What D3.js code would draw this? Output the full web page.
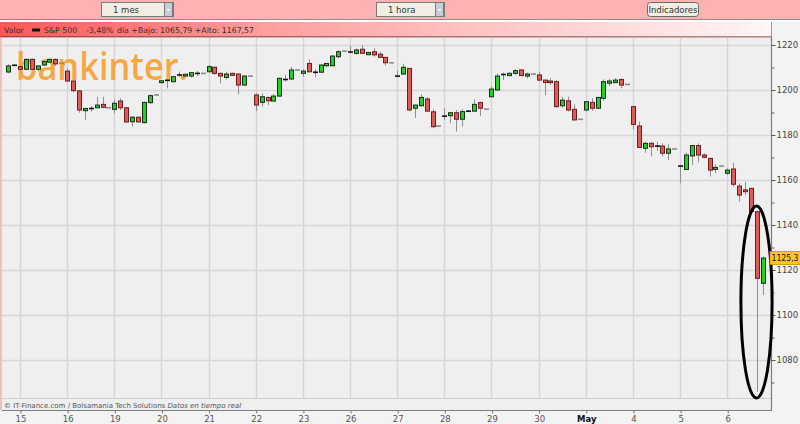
<!DOCTYPE html>
<html><head><meta charset="utf-8">
<script src="https://cdn.jsdelivr.net/npm/d3@7"></script>
<style>body{margin:0;background:#f3f3f3;overflow:hidden} svg{display:block}</style>
</head><body><svg id="c" width="800" height="424"></svg>
<script>
// ---- DATA (S&P 500, hourly candles, 14 Apr - 6 May) ----
const dayLabels = ["14","15","16","19","20","21","22","23","26","27","28","29","30","May","4","5","6"];
const candlesPerDay = [2,8,8,8,8,8,8,8,8,8,8,8,8,8,8,8,7];
const tickLabels = ["15","16","19","20","21","22","23","26","27","28","29","30","May","4","5","6"];
const yTicks = [1080,1100,1120,1140,1160,1180,1200,1220];
const yMinorTicks = [1070,1090,1110,1130,1150,1170,1190,1210];
const open = [
 1208.0,1211.0,
 1210.4,1209.2,1213.6,1209.2,1211.1,1212.4,1213.6,1211.9,
 1208.4,1204.0,1199.6,1190.8,1191.8,1192.1,1193.6,1192.1,
 1191.4,1195.1,1192.1,1185.9,1187.9,1185.5,1194.4,1197.8,
 1203.3,1204.5,1203.7,1206.7,1206.2,1206.2,1207.4,1207.4,
 1208.1,1210.1,1207.4,1205.6,1207.4,1207.1,1202.2,1206.2,
 1197.8,1194.5,1196.7,1195.1,1197.3,1204.7,1204.9,1208.9,
 1207.4,1211.8,1207.9,1207.9,1210.8,1210.8,1214.8,1217.3,
 1216.9,1216.3,1218.1,1215.7,1217.0,1215.9,1214.5,1212.1,
 1206.2,1207.1,1209.6,1191.9,1193.0,1196.0,1190.3,1184.0,
 1188.4,1188.6,1189.9,1187.0,1190.6,1190.6,1194.4,1191.5,
 1197.0,1200.0,1206.9,1206.4,1207.4,1208.9,1206.2,1207.1,
 1206.7,1204.4,1204.0,1203.7,1193.0,1195.2,1191.4,1187.0,
 1191.1,1194.5,1191.9,1196.3,1203.0,1203.3,1204.7,1202.5,
 1192.6,1184.0,1174.1,1176.3,1175.1,1175.1,1171.9,1173.8,
 1166.2,1164.7,1170.7,1175.3,1171.1,1169.6,1164.7,1166.2,
 1163.0,1164.9,1157.3,1155.6,1156.3,1145.9,1114.1];
const high = [
 1211.4,1211.3,
 1210.7,1214.1,1214.0,1211.0,1213.3,1214.0,1214.0,1212.0,
 1209.6,1204.3,1199.9,1192.0,1192.9,1197.0,1197.0,1192.2,
 1195.6,1196.3,1192.3,1188.4,1188.1,1194.8,1198.1,1197.9,
 1204.5,1204.9,1206.2,1208.2,1207.3,1207.9,1208.4,1207.5,
 1211.1,1210.4,1207.7,1208.1,1207.7,1207.4,1206.5,1206.3,
 1198.5,1198.5,1197.0,1198.2,1205.5,1206.7,1210.4,1209.0,
 1209.2,1213.6,1209.2,1211.4,1212.0,1215.4,1217.8,1217.4,
 1219.5,1218.5,1220.0,1216.9,1218.5,1217.0,1214.7,1212.2,
 1208.6,1211.6,1209.8,1193.5,1198.1,1196.8,1191.5,1184.1,
 1191.8,1190.3,1191.1,1191.5,1191.0,1195.8,1194.8,1191.6,
 1201.6,1207.4,1207.7,1207.8,1209.2,1209.3,1207.7,1207.2,
 1208.0,1204.6,1205.2,1204.4,1197.0,1197.0,1193.6,1187.1,
 1195.0,1196.3,1196.9,1204.7,1204.9,1205.2,1205.0,1202.6,
 1192.8,1186.0,1177.0,1177.0,1177.0,1176.3,1175.9,1173.9,
 1166.4,1172.1,1175.6,1176.3,1171.8,1169.8,1167.0,1166.3,
 1165.2,1167.6,1158.5,1159.2,1156.5,1146.2,1126.0];
const low = [
 1207.4,1210.8,
 1208.9,1208.9,1209.0,1208.3,1210.7,1212.0,1210.7,1211.8,
 1203.7,1199.0,1189.9,1186.7,1190.4,1191.9,1191.9,1192.0,
 1189.6,1191.1,1185.5,1183.7,1185.6,1185.2,1193.8,1197.7,
 1202.8,1200.7,1203.4,1205.9,1205.9,1205.5,1206.2,1207.3,
 1207.9,1206.7,1202.9,1204.7,1206.2,1198.1,1202.0,1206.1,
 1190.6,1192.6,1193.3,1194.8,1197.0,1203.7,1204.4,1208.8,
 1205.9,1207.8,1205.6,1207.7,1210.1,1210.5,1214.1,1217.2,
 1216.3,1215.6,1216.0,1215.4,1214.8,1214.1,1210.9,1212.0,
 1205.6,1206.8,1190.6,1187.6,1192.8,1190.3,1183.0,1183.9,
 1186.7,1185.2,1181.5,1183.7,1190.2,1190.3,1188.4,1191.4,
 1196.8,1199.8,1204.4,1206.2,1206.7,1206.2,1205.2,1207.0,
 1204.1,1197.7,1202.2,1192.1,1192.1,1190.4,1186.5,1186.9,
 1190.4,1190.8,1191.7,1195.2,1201.8,1203.0,1200.7,1202.4,
 1182.5,1174.3,1172.1,1170.5,1172.9,1170.5,1168.9,1173.7,
 1158.6,1164.5,1166.6,1167.9,1169.6,1161.5,1162.9,1166.1,
 1162.2,1157.0,1150.4,1153.3,1145.0,1065.8,1108.9];
const close = [
 1210.7,1211.0,
 1209.2,1213.6,1209.2,1210.7,1212.6,1213.6,1211.6,1211.9,
 1204.0,1199.7,1191.1,1191.8,1191.8,1193.3,1192.3,1192.1,
 1194.1,1192.1,1185.8,1187.9,1185.8,1194.5,1197.5,1197.8,
 1204.1,1204.3,1205.9,1206.7,1207.0,1207.7,1207.4,1207.4,
 1210.4,1207.4,1206.2,1207.1,1206.5,1202.2,1206.2,1206.2,
 1193.3,1197.0,1195.2,1197.3,1205.2,1204.7,1208.9,1208.9,
 1208.4,1208.1,1207.9,1211.1,1211.8,1215.1,1217.0,1217.3,
 1216.9,1217.8,1216.3,1216.7,1215.6,1214.5,1212.1,1212.1,
 1206.2,1210.1,1191.1,1193.3,1196.7,1190.6,1183.7,1184.0,
 1188.4,1189.9,1187.0,1190.4,1190.6,1193.6,1191.9,1191.5,
 1200.4,1206.2,1206.9,1207.4,1208.6,1206.4,1207.1,1207.1,
 1204.4,1203.3,1203.3,1192.6,1195.5,1191.1,1186.7,1187.0,
 1194.8,1191.9,1196.7,1203.7,1204.0,1204.4,1202.2,1202.5,
 1184.7,1174.5,1176.3,1174.8,1175.1,1171.9,1173.8,1173.8,
 1166.2,1171.1,1175.3,1171.1,1170.1,1164.4,1165.6,1166.2,
 1164.4,1158.1,1153.3,1154.8,1145.9,1116.3,1125.3];
const lastValue = "1125,3";
const headerText = ["Valor", "S&P 500", "-3,48%", "día +Bajo: 1065,79 +Alto: 1167,57"];

// ---- build candles: slot index relative to first full day (15 Apr) ----
const candles = [];
dayLabels.forEach((d, di) => {
  for (let h = 0; h < candlesPerDay[di]; h++) {
    const i = candles.length;
    candles.push({day: d, slot: i - candlesPerDay[0], o: open[i], h: high[i], l: low[i], c: close[i]});
  }
});

const svg = d3.select("#c");
const W = 800, H = 424;
const plot = {x0: 2, x1: 771, y0: 37, y1: 410, inner: 398};

const x = d3.scaleLinear().domain([-2, 126]).range([8.2, 762.6]);
const y = d3.scaleLinear().domain([1060, 1220]).range([405, 45]);

// page background
svg.append("rect").attr("width", W).attr("height", H).attr("fill", "#f3f3f3");

// ---- top toolbar ----
svg.append("rect").attr("x",0).attr("y",0).attr("width",W).attr("height",19).attr("fill","#ffb2b2");
svg.append("line").attr("x1",0).attr("x2",W).attr("y1",19.5).attr("y2",19.5).attr("stroke","#8c8c8c");
svg.append("rect").attr("x",0).attr("y",20).attr("width",W).attr("height",2).attr("fill","#ffffff");
function dropdown(x0, w, label){
  const g = svg.append("g");
  g.append("rect").attr("x",x0+0.5).attr("y",2.5).attr("width",w).attr("height",14).attr("fill","#f0eee2").attr("stroke","#7a7a7a");
  g.append("rect").attr("x",x0+w-8.5).attr("y",2.5).attr("width",8).attr("height",14).attr("fill","#c8ccd4").attr("stroke","#7a7a7a");
  g.append("rect").attr("x",x0+w-6).attr("y",9).attr("width",3).attr("height",1.5).attr("fill","#ffffff");
  g.append("text").attr("x",x0+12).attr("y",13).attr("font-family","DejaVu Sans").attr("font-size",8.5).attr("fill","#333").text(label);
}
dropdown(101, 72, "1 mes");
dropdown(376, 68, "1 hora");
svg.append("rect").attr("x",647.5).attr("y",2.5).attr("width",51).attr("height",14).attr("rx",3).attr("fill","#f0eee2").attr("stroke","#6a6a6a");
svg.append("text").attr("x",673).attr("y",13).attr("text-anchor","middle").attr("font-family","DejaVu Sans").attr("font-size",8.5).attr("fill","#333").text("Indicadores");

// ---- header bar ----
const defs = svg.append("defs");
const grad = defs.append("linearGradient").attr("id","hg").attr("x1","0").attr("x2","1").attr("y1","0").attr("y2","0");
grad.append("stop").attr("offset","0%").attr("stop-color","#ff5656");
grad.append("stop").attr("offset","35%").attr("stop-color","#ff9f9f");
grad.append("stop").attr("offset","100%").attr("stop-color","#fff6f6");
svg.append("rect").attr("x",0).attr("y",22).attr("width",771).attr("height",15).attr("fill","url(#hg)");
svg.append("line").attr("x1",771.5).attr("x2",771.5).attr("y1",22).attr("y2",37).attr("stroke","#9a9a9a");
svg.append("line").attr("x1",0).attr("x2",771).attr("y1",37).attr("y2",37).attr("stroke","#6e2020").attr("stroke-width",1.2);
const ht = svg.append("g").attr("font-family","DejaVu Sans").attr("font-size",7.8).attr("fill","#3a2a2a");
ht.append("text").attr("x",4).attr("y",33).text(headerText[0]);
ht.append("rect").attr("x",32).attr("y",28.5).attr("width",8).attr("height",3).attr("fill","#111");
ht.append("text").attr("x",44).attr("y",33).text(headerText[1]);
ht.append("text").attr("x",86).attr("y",33).text(headerText[2]);
ht.append("text").attr("x",117).attr("y",33).text(headerText[3]);

// ---- plot area ----
svg.append("rect").attr("x",plot.x0).attr("y",37.6).attr("width",plot.x1-plot.x0).attr("height",plot.y1-37.6).attr("fill","#efefef");
svg.append("line").attr("x1",1).attr("x2",1).attr("y1",37).attr("y2",plot.y1).attr("stroke","#e2b4b4").attr("stroke-width",1.5);

const grid = svg.append("g");
const dayTicks = tickLabels.map((t,k)=>k*8);
grid.selectAll(".vg").data(dayTicks).enter().append("line")
  .attr("x1",d=>Math.round(x(d))+0.5).attr("x2",d=>Math.round(x(d))+0.5)
  .attr("y1",38).attr("y2",plot.inner).attr("stroke","#d6d6d6").attr("stroke-width",1.5);
grid.selectAll(".hg").data(yTicks).enter().append("line")
  .attr("x1",plot.x0).attr("x2",plot.x1).attr("y1",d=>Math.round(y(d))+0.5).attr("y2",d=>Math.round(y(d))+0.5)
  .attr("stroke","#d6d6d6").attr("stroke-width",1.5);
grid.append("line").attr("x1",plot.x0).attr("x2",plot.x1).attr("y1",plot.inner+0.5).attr("y2",plot.inner+0.5).attr("stroke","#d0d0d0").attr("stroke-width",1.2);

// logo watermark
svg.append("text").attr("x",16).attr("y",80).attr("font-family","Open Sans").attr("font-weight",600).attr("font-size",37)
  .attr("fill","#f7a035").attr("fill-opacity",0.92).attr("textLength",172).attr("lengthAdjust","spacingAndGlyphs")
  .text("bankinter.");

// ---- candles ----
const cg = svg.append("g");
candles.forEach(d => {
  const cx = Math.round(x(d.slot)) + 0.5;
  const flat = Math.abs(d.o - d.c) < 0.35;
  cg.append("line").attr("x1",cx).attr("x2",cx).attr("y1",y(d.h)).attr("y2",y(d.l))
    .attr("stroke", "#8f8f8f").attr("stroke-width",1);
  if (flat) {
    const tiny = (d.h - d.l) < 0.5;
    cg.append("rect").attr("x",cx-2.5).attr("y",y(d.c)-0.75).attr("width",5).attr("height",1.6)
      .attr("fill", tiny ? "#8c8c8c" : "#111");
  } else {
    const up = d.c > d.o;
    const top = y(Math.max(d.o,d.c)), bot = y(Math.min(d.o,d.c));
    cg.append("rect").attr("x",cx-2).attr("y",top).attr("width",4).attr("height",Math.max(1,bot-top))
      .attr("fill", up ? "#22d222" : "#dc5c5c").attr("stroke", up ? "#1c2a1c" : "#6e1c1c").attr("stroke-width",1);
  }
});

// ---- frame ----
svg.append("line").attr("x1",plot.x1+0.5).attr("x2",plot.x1+0.5).attr("y1",37).attr("y2",plot.y1).attr("stroke","#7d7d7d").attr("stroke-width",1.2);
svg.append("line").attr("x1",plot.x0).attr("x2",plot.x1+1).attr("y1",plot.y1+0.5).attr("y2",plot.y1+0.5).attr("stroke","#7d7d7d").attr("stroke-width",1.2);

// y axis (right)
const yAxis = d3.axisRight(y).tickValues(yTicks).tickSize(4).tickPadding(1).tickFormat(d3.format("d"));
const ya = svg.append("g").attr("transform",`translate(${plot.x1+0.5},0)`).call(yAxis);
ya.select(".domain").remove();
ya.selectAll("line").attr("stroke","#555");
ya.selectAll("text").attr("font-family","DejaVu Sans").attr("font-size",8.5).attr("fill","#444");
const ym = svg.append("g").attr("transform",`translate(${plot.x1+0.5},0)`).call(d3.axisRight(y).tickValues(yMinorTicks).tickSize(3).tickFormat(""));
ym.select(".domain").remove();
ym.selectAll("line").attr("stroke","#666");

// x axis (bottom)
const xAxis = d3.axisBottom(x).tickValues(dayTicks).tickSize(3).tickPadding(2).tickFormat((d,i)=>tickLabels[i]);
const xa = svg.append("g").attr("transform",`translate(0.5,${plot.y1+0.5})`).call(xAxis);
xa.select(".domain").remove();
xa.selectAll("line").attr("stroke","#777");
xa.selectAll("text").attr("font-family","DejaVu Sans").attr("font-size",8.5)
  .attr("font-weight",(d,i)=>tickLabels[i]==="May"?"bold":"normal")
  .attr("fill",(d,i)=>tickLabels[i]==="May"?"#111":"#555");

// footer credit
const ft = svg.append("text").attr("x",4).attr("y",407.5).attr("font-family","DejaVu Sans").attr("font-size",7).attr("fill","#555");
ft.append("tspan").text("© IT-Finance.com / Bolsamania Tech Solutions  ");
ft.append("tspan").attr("font-style","italic").text("Datos en tiempo real");

// annotation ellipse
svg.append("ellipse").attr("cx",756.5).attr("cy",302).attr("rx",15.6).attr("ry",96)
  .attr("fill","none").attr("stroke","#000").attr("stroke-width",3);

// last value label
const ly = y(close[close.length-1]);
svg.append("rect").attr("x",770).attr("y",ly-6.5).attr("width",32).attr("height",13).attr("fill","#ffc820").attr("stroke","#c89000").attr("stroke-width",0.8);
svg.append("text").attr("x",771.5).attr("y",ly+3).attr("font-family","DejaVu Sans").attr("font-size",8)
  .attr("textLength",27).attr("lengthAdjust","spacingAndGlyphs").attr("fill","#111").text(lastValue);
</script></body></html>
